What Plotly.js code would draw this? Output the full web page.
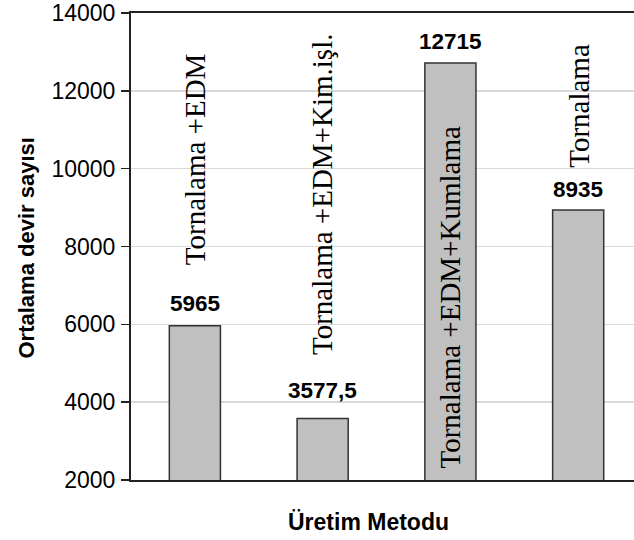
<!DOCTYPE html>
<html>
<head>
<meta charset="utf-8">
<script src="https://cdn.plot.ly/plotly-3.0.1.min.js"></script>
<style>html,body{margin:0;padding:0;background:#fff;}</style>
</head>
<body>
<div id="chart" style="width:634px;height:540px;"></div>
<script>
// Data
const categories = ["Tornalama +EDM", "Tornalama +EDM+Kim.işl.", "Tornalama +EDM+Kumlama", "Tornalama"];
const values = [5965, 3577.5, 12715, 8935];
const yTickVals = [2000, 4000, 6000, 8000, 10000, 12000, 14000];
const yTitle = "Ortalama devir sayısı";
const xTitle = "Üretim Metodu";

// Placement of the vertical method names (data y of text centre) and value-label offsets
const nameCentres = [10240, 9340, 6700, 11620];
const valueShift = [22, 28, 22, 21];

const fmt = v => String(v).replace('.', ',');

const trace = {
  type: 'bar',
  x: [0, 1, 2, 3],
  y: values,
  width: 0.4,
  marker: {color: '#c0c0c0', line: {color: '#333333', width: 1.5}},
  hoverinfo: 'none'
};

const sans = 'Liberation Sans, Arial, sans-serif';
const annotations = [];
values.forEach((v, i) => {
  annotations.push({
    x: i, y: v, xref: 'x', yref: 'y',
    text: '<b>' + fmt(v) + '</b>', showarrow: false,
    yanchor: 'middle', yshift: valueShift[i],
    font: {family: sans, size: 22.5, color: '#000'}
  });
  annotations.push({
    x: i, y: nameCentres[i], xref: 'x', yref: 'y',
    text: categories[i], showarrow: false, textangle: -90,
    xanchor: 'center', yanchor: 'middle',
    font: {family: 'Liberation Serif, Times New Roman, serif', size: 29, color: '#000'}
  });
});
annotations.push({
  x: 0, y: 0.5, xref: 'paper', yref: 'paper', xshift: -105,
  text: '<b>' + yTitle + '</b>', showarrow: false, textangle: -90,
  xanchor: 'center', yanchor: 'middle', yshift: -2,
  font: {family: sans, size: 22, color: '#000'}
});
annotations.push({
  x: 0.473, y: 0, xref: 'paper', yref: 'paper', yshift: -42,
  text: '<b>' + xTitle + '</b>', showarrow: false,
  xanchor: 'center', yanchor: 'middle',
  font: {family: sans, size: 23, color: '#000'}
});

const layout = {
  width: 634, height: 540,
  margin: {l: 131, r: 0, t: 13, b: 60, pad: 0},
  paper_bgcolor: '#ffffff', plot_bgcolor: '#ffffff',
  showlegend: false,
  xaxis: {
    range: [-0.5, 3.437], showticklabels: false, ticks: '',
    showgrid: false, zeroline: false,
    showline: true, mirror: true, linecolor: '#222', linewidth: 2, fixedrange: true
  },
  yaxis: {
    range: [2000, 14000.5], tickvals: yTickVals, tickformat: 'd',
    ticks: 'outside', ticklen: 8, tickwidth: 1.5, tickcolor: '#222',
    showgrid: true, gridcolor: '#d9d9d9', gridwidth: 1.5, zeroline: false,
    showline: true, linecolor: '#222', linewidth: 2,
    ticklabeloverflow: 'allow', ticklabelstandoff: 1,
    tickfont: {family: sans, size: 23, color: '#000'},
    fixedrange: true
  },
  annotations: annotations
};

Plotly.newPlot('chart', [trace], layout, {displayModeBar: false, staticPlot: true});
</script>
</body>
</html>
